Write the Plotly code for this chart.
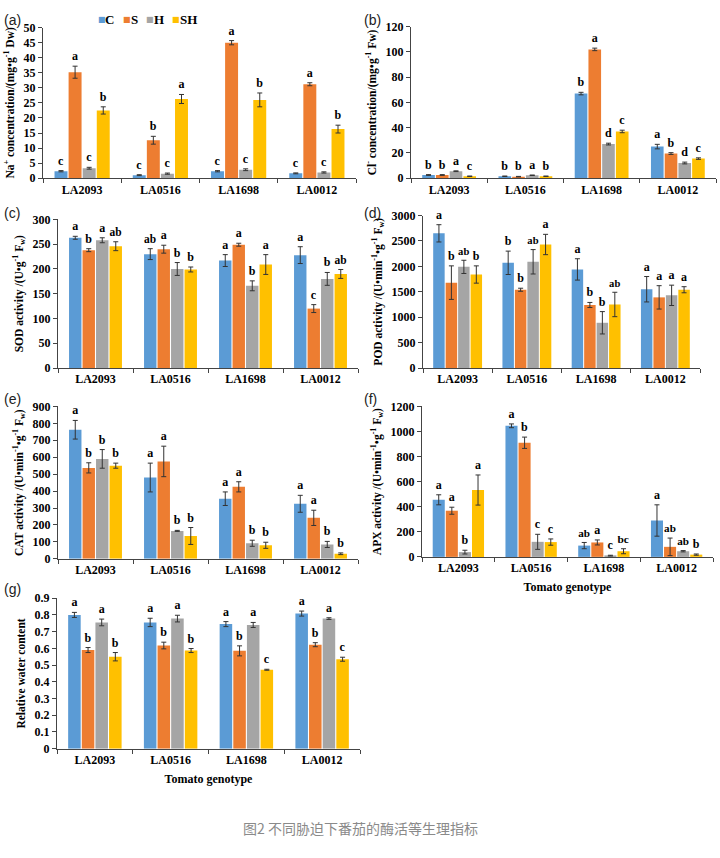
import plotly.graph_objects as go

W, H = 720, 858

genotypes = ["LA2093", "LA0516", "LA1698", "LA0012"]
treatments = ["C", "S", "H", "SH"]
colors = ["#5B9BD5", "#ED7D31", "#A5A5A5", "#FFC000"]

# each list-of-lists: rows = treatments (C, S, H, SH), columns = genotypes
na_mean = [[2.3, 1.0, 2.3, 1.6], [35.2, 12.6, 45.0, 31.2], [3.3, 1.5, 2.8, 1.9], [22.5, 26.3, 26.0, 16.3]]
na_err = [[0.2, 0.15, 0.2, 0.15], [2.0, 1.3, 0.7, 0.5], [0.3, 0.2, 0.3, 0.2], [1.2, 1.5, 2.3, 1.3]]
na_sig = [["c", "c", "c", "c"], ["a", "b", "a", "a"], ["c", "c", "c", "c"], ["b", "a", "b", "b"]]

cl_mean = [[2.5, 1.5, 67.0, 25.0], [2.5, 1.2, 102.0, 19.5], [5.5, 2.3, 27.0, 12.0], [1.5, 1.5, 37.0, 15.5]]
cl_err = [[0.3, 0.2, 1.0, 1.8], [0.3, 0.2, 1.0, 0.7], [0.3, 0.2, 0.7, 0.7], [0.2, 0.2, 1.0, 0.6]]
cl_sig = [["b", "b", "b", "a"], ["b", "b", "a", "b"], ["a", "a", "d", "d"], ["c", "b", "c", "c"]]

sod_mean = [[263, 230, 217, 228], [238, 240, 249, 120], [258, 200, 166, 180], [246, 199, 209, 190]]
sod_err = [[3, 11, 12, 17], [3, 8, 3, 8], [5, 13, 10, 13], [9, 5, 20, 9]]
sod_sig = [["a", "ab", "a", "a"], ["b", "a", "a", "c"], ["a", "b", "b", "b"], ["ab", "b", "a", "ab"]]

pod_mean = [[2650, 2070, 1940, 1550], [1680, 1540, 1240, 1390], [1990, 2090, 890, 1430], [1840, 2430, 1250, 1540]]
pod_err = [[170, 230, 210, 250], [330, 30, 50, 230], [130, 240, 220, 200], [170, 200, 240, 60]]
pod_sig = [["a", "b", "a", "a"], ["b", "b", "b", "a"], ["ab", "ab", "b", "a"], ["b", "a", "ab", "a"]]

cat_mean = [[762, 480, 355, 325], [537, 575, 425, 242], [590, 165, 92, 85], [550, 135, 80, 30]]
cat_err = [[55, 85, 40, 50], [30, 90, 30, 45], [55, 3, 18, 18], [15, 50, 18, 5]]
cat_sig = [["a", "a", "a", "a"], ["b", "a", "a", "a"], ["b", "b", "b", "b"], ["b", "b", "b", "b"]]

apx_mean = [[455, 1045, 90, 290], [368, 910, 115, 80], [38, 120, 10, 45], [533, 118, 45, 18]]
apx_err = [[40, 15, 25, 125], [28, 45, 20, 70], [15, 60, 3, 5], [120, 25, 20, 5]]
apx_sig = [["a", "a", "ab", "a"], ["a", "b", "a", "ab"], ["b", "c", "c", "ab"], ["a", "c", "bc", "b"]]

rwc_mean = [[0.800, 0.755, 0.745, 0.808], [0.590, 0.617, 0.585, 0.622], [0.755, 0.778, 0.740, 0.778], [0.550, 0.587, 0.472, 0.535]]
rwc_err = [[0.015, 0.025, 0.015, 0.015], [0.015, 0.02, 0.03, 0.012], [0.02, 0.02, 0.015, 0.005], [0.025, 0.012, 0.003, 0.012]]
rwc_sig = [["a", "a", "a", "a"], ["b", "b", "b", "b"], ["a", "a", "a", "a"], ["b", "b", "c", "c"]]

panel_tags = ["(a)", "(b)", "(c)", "(d)", "(e)", "(f)", "(g)"]
caption = "图2 不同胁迫下番茄的酶活等生理指标"

panels = [
    dict(mean=na_mean, err=na_err, sig=na_sig, rng=[0, 50], dtick=5,
         ytitle="Na<sup>+</sup> concentration/(mg•g<sup>-1</sup> Dw)", px=(43, 356, 21, 174),
         tagpx=(2, 13), xtitle=None),
    dict(mean=cl_mean, err=cl_err, sig=cl_sig, rng=[0, 120], dtick=20,
         ytitle="Cl<sup>-</sup> concentration/(mg•g<sup>-1</sup> Fw)", px=(411, 716, 20, 174),
         tagpx=(362, 13), xtitle=None),
    dict(mean=sod_mean, err=sod_err, sig=sod_sig, rng=[0, 300], dtick=50,
         ytitle="SOD activity /(U•g<sup>-1</sup> F<sub>w</sub>)", px=(58, 358, 216, 367),
         tagpx=(2, 209), xtitle=None),
    dict(mean=pod_mean, err=pod_err, sig=pod_sig, rng=[0, 3000], dtick=500,
         ytitle="POD activity /(U•min<sup>-1</sup>•g<sup>-1</sup> F<sub>w</sub>)", px=(423, 700, 212, 367),
         tagpx=(362, 209), xtitle=None),
    dict(mean=cat_mean, err=cat_err, sig=cat_sig, rng=[0, 900], dtick=100,
         ytitle="CAT activity /(U•min<sup>-1</sup>•g<sup>-1</sup> F<sub>w</sub>)", px=(58, 358, 406, 561),
         tagpx=(2, 399), xtitle=None),
    dict(mean=apx_mean, err=apx_err, sig=apx_sig, rng=[0, 1200], dtick=200,
         ytitle="APX activity /(U•min<sup>-1</sup>•g<sup>-1</sup> F<sub>w</sub>)", px=(422, 713, 406, 559),
         tagpx=(362, 399), xtitle="Tomato genotype"),
    dict(mean=rwc_mean, err=rwc_err, sig=rwc_sig, rng=[0, 0.9], dtick=0.1,
         ytitle="Relative water content", px=(57, 360, 601, 754),
         tagpx=(2, 592), xtitle="Tomato genotype"),
]

SERIF = "Liberation Serif"
fig = go.Figure()
annotations = []
layout = dict(
    width=W, height=H, margin=dict(l=0, r=0, t=0, b=0),
    paper_bgcolor="white", plot_bgcolor="white",
    barmode="group", bargap=0.28, bargroupgap=0.08,
    font=dict(family=SERIF, size=11, color="black"),
    showlegend=False,
)

for p_i, p in enumerate(panels):
    n = "" if p_i == 0 else str(p_i + 1)
    xa, ya = "x" + n, "y" + n
    x0, x1, y0, y1 = p["px"]
    for k, t in enumerate(treatments):
        fig.add_trace(go.Bar(
            x=genotypes, y=p["mean"][k], name=t, legendgroup=t, showlegend=False,
            marker=dict(color=colors[k], line=dict(width=0)), offsetgroup=str(k),
            error_y=dict(type="data", array=p["err"][k], color="#333333", thickness=1, width=2.5),
            xaxis=xa, yaxis=ya, hoverinfo="skip",
        ))
        tops = [m + e for m, e in zip(p["mean"][k], p["err"][k])]
        fig.add_trace(go.Bar(
            x=genotypes, y=tops, name=t + " significance", showlegend=False, offsetgroup=str(k),
            marker=dict(color="rgba(0,0,0,0)", line=dict(width=0)),
            text=p["sig"][k], textposition="outside", cliponaxis=False,
            textfont=dict(family=SERIF, size=12, color="black", weight="bold"),
            xaxis=xa, yaxis=ya, hoverinfo="skip",
        ))
    layout["xaxis" + n] = dict(
        domain=[x0 / W, x1 / W], anchor=ya, type="category",
        showline=True, linecolor="#444", linewidth=1, ticks="outside", tickson="boundaries",
        ticklen=4, tickcolor="#444", showgrid=False,
        tickfont=dict(family=SERIF, size=12, color="black", weight="bold"),
        title=dict(text=p["xtitle"], font=dict(family=SERIF, size=12, color="black", weight="bold"),
                   standoff=8) if p["xtitle"] else None,
    )
    layout["yaxis" + n] = dict(
        domain=[1 - y1 / H, 1 - y0 / H], anchor=xa, range=p["rng"], dtick=p["dtick"],
        showline=True, linecolor="#444", linewidth=1, ticks="outside", ticklen=4, tickcolor="#444",
        showgrid=False, zeroline=False,
        tickfont=dict(family=SERIF, size=12, color="black", weight="bold"),
        title=dict(text=p["ytitle"], font=dict(family=SERIF, size=11.5, color="black", weight="bold"),
                   standoff=6),
    )
    tx, ty = p["tagpx"]
    annotations.append(dict(
        text=panel_tags[p_i], x=tx / W, y=1 - ty / H, xref="paper", yref="paper",
        xanchor="left", yanchor="middle", showarrow=False,
        font=dict(family="Liberation Sans", size=14, color="#222"),
    ))

# legend drawn as compact colored squares + labels (as in the reference)
legend_sq_x = [96, 121, 144, 170]
legend_tx_x = [103, 129, 152, 178]
for k, t in enumerate(treatments):
    annotations.append(dict(
        text="■", x=legend_sq_x[k] / W, y=1 - 13 / H, xref="paper", yref="paper",
        xanchor="left", yanchor="middle", showarrow=False,
        font=dict(family="DejaVu Sans", size=8, color=colors[k]),
    ))
    annotations.append(dict(
        text="<b>" + t + "</b>", x=legend_tx_x[k] / W, y=1 - 13 / H, xref="paper", yref="paper",
        xanchor="left", yanchor="middle", showarrow=False,
        font=dict(family=SERIF, size=13, color="black"),
    ))

annotations.append(dict(
    text=caption, x=0.5, y=1 - 835 / H, xref="paper", yref="paper",
    xanchor="center", yanchor="middle", showarrow=False,
    font=dict(family="Noto Sans CJK SC", size=14, color="#8a8a8a"),
))
layout["annotations"] = annotations

fig.update_layout(**layout)
fig.write_html("out.html", config={"displayModeBar": False},
               post_script="document.body.style.margin='0';document.body.style.overflow='hidden';")
